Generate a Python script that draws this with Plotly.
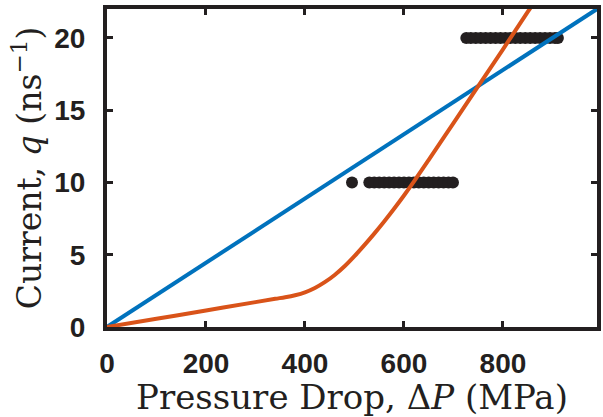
import plotly.graph_objects as go

# Measured currents (two plateaus)
dp_q10 = [495, 530, 540, 550, 560, 570, 580, 590, 600, 610, 620, 630, 640,
          650, 660, 670, 680, 690, 699]
q_q10 = [10] * len(dp_q10)
dp_q20 = [726, 735, 745, 755, 765, 775, 785, 795, 805, 815, 825, 835, 845,
          855, 865, 875, 885, 895, 905, 911]
q_q20 = [20] * len(dp_q20)

# Linear model
lin_dp = [0, 990]
lin_q = [0, 22]

# Nonlinear model
nl_dp = [0, 100, 200, 300, 340, 360, 380, 400, 420, 440, 460, 480, 500, 520,
         540, 560, 580, 600, 620, 650, 700, 750, 800, 851, 880]
nl_q = [0, 0.57, 1.14, 1.72, 1.95, 2.06, 2.2, 2.4, 2.7, 3.1, 3.6, 4.2, 4.9,
        5.66, 6.46, 7.3, 8.18, 9.1, 10.06, 11.56, 14.11, 16.66, 19.21, 21.85,
        23.3]

x_ticks = [0, 200, 400, 600, 800]
y_ticks = [0, 5, 10, 15, 20]

DOT = "#231f20"
BLUE = "#0072bd"
ORANGE = "#d95319"
INK = "#231f20"

fig = go.Figure()
for xs, ys in ((dp_q10, q_q10), (dp_q20, q_q20)):
    fig.add_trace(go.Scatter(x=xs, y=ys, mode="markers",
                             marker=dict(size=12, color=DOT, line=dict(width=0)),
                             showlegend=False))
fig.add_trace(go.Scatter(x=lin_dp, y=lin_q, mode="lines",
                         line=dict(color=BLUE, width=4), showlegend=False))
fig.add_trace(go.Scatter(x=nl_dp, y=nl_q, mode="lines", line_shape="spline",
                         line=dict(color=ORANGE, width=4, smoothing=1.0),
                         showlegend=False))

axis_common = dict(
    showgrid=False, zeroline=False, showline=True, linecolor=INK,
    linewidth=4, mirror="ticks", ticks="inside", ticklen=6, tickwidth=3,
    tickcolor=INK,
    tickfont=dict(family="Liberation Sans", size=28, color=INK,
                  weight="bold"),
)

fig.update_layout(
    width=603, height=417,
    margin=dict(l=107, r=2, t=9, b=90),
    paper_bgcolor="white", plot_bgcolor="white",
    xaxis=dict(range=[0, 990], tickvals=x_ticks, ticklabelstandoff=8,
               title=dict(text="Pressure Drop, Δ<i>P</i> (MPa)",
                          font=dict(family="DejaVu Serif", size=34, color=INK),
                          standoff=3),
               **axis_common),
    yaxis=dict(range=[0, 22], tickvals=y_ticks, ticklabelstandoff=12,
               title=dict(text="Current, <i>q</i> (ns<sup>−1</sup>)",
                          font=dict(family="DejaVu Serif", size=33, color=INK),
                          standoff=4),
               **axis_common),
)

fig.write_html("out.html")
